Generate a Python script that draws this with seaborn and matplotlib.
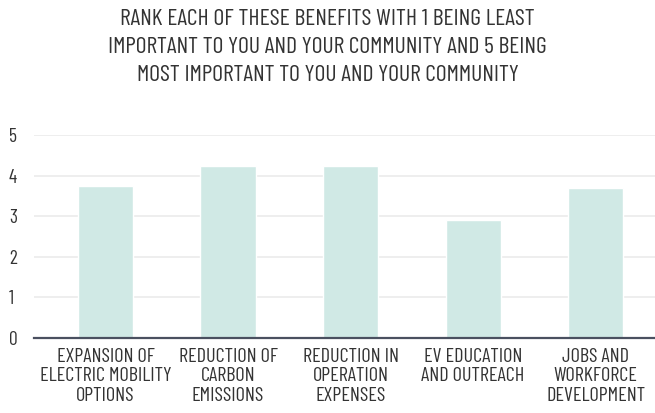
import matplotlib
matplotlib.use("Agg")
import matplotlib.pyplot as plt
import seaborn as sns
import pandas as pd

categories = [
    "EXPANSION OF\nELECTRIC MOBILITY\nOPTIONS",
    "REDUCTION OF\nCARBON\nEMISSIONS",
    "REDUCTION IN\nOPERATION\nEXPENSES",
    "EV EDUCATION\nAND OUTREACH",
    "JOBS AND\nWORKFORCE\nDEVELOPMENT",
]
values = [3.74, 4.24, 4.24, 2.91, 3.69]
yticks = [0, 1, 2, 3, 4, 5]
title = ("RANK EACH OF THESE BENEFITS WITH 1 BEING LEAST\n"
         "IMPORTANT TO YOU AND YOUR COMMUNITY AND 5 BEING\n"
         "MOST IMPORTANT TO YOU AND YOUR COMMUNITY")

sns.set_style("white")
plt.rcParams['font.family'] = ['Barlow Condensed', 'DejaVu Sans']
plt.rcParams['font.weight'] = 'normal'

df = pd.DataFrame({"cat": categories, "val": values})
W, H = 655, 413
fig = plt.figure(figsize=(W/100, H/100), dpi=100)
ax = fig.add_axes([34/W, 1-338/H, (655-34)/W, (338-135)/H])
sns.barplot(data=df, x="cat", y="val", color="#d0e9e5", saturation=1,
            width=0.45, ax=ax, zorder=2)
ax.set_xlim(-0.584, 4.485)
ax.set_ylim(0, 5)
ax.set_yticks(yticks)
ax.yaxis.grid(True, color="#ebebeb", lw=1.2, zorder=0)
ax.set_axisbelow(True)
for s in ["top", "right", "left"]:
    ax.spines[s].set_visible(False)
ax.spines["bottom"].set_color("#4a5060")
ax.spines["bottom"].set_linewidth(1.6)
ax.set_xlabel("")
ax.set_ylabel("")
ax.tick_params(axis="y", length=0, pad=18, labelsize=14, labelcolor="#333333")
ax.tick_params(axis="x", length=0, pad=7, labelsize=14.5, labelcolor="#333333")
for t in ax.get_yticklabels():
    t.set_horizontalalignment("left")
for t in ax.get_xticklabels():
    t.set_linespacing(1.12)
fig.text(0.5, 1-9/H, title, ha="center", va="top", fontsize=17,
         color="#333333", linespacing=1.45)
fig.savefig("out.png", dpi=100)
